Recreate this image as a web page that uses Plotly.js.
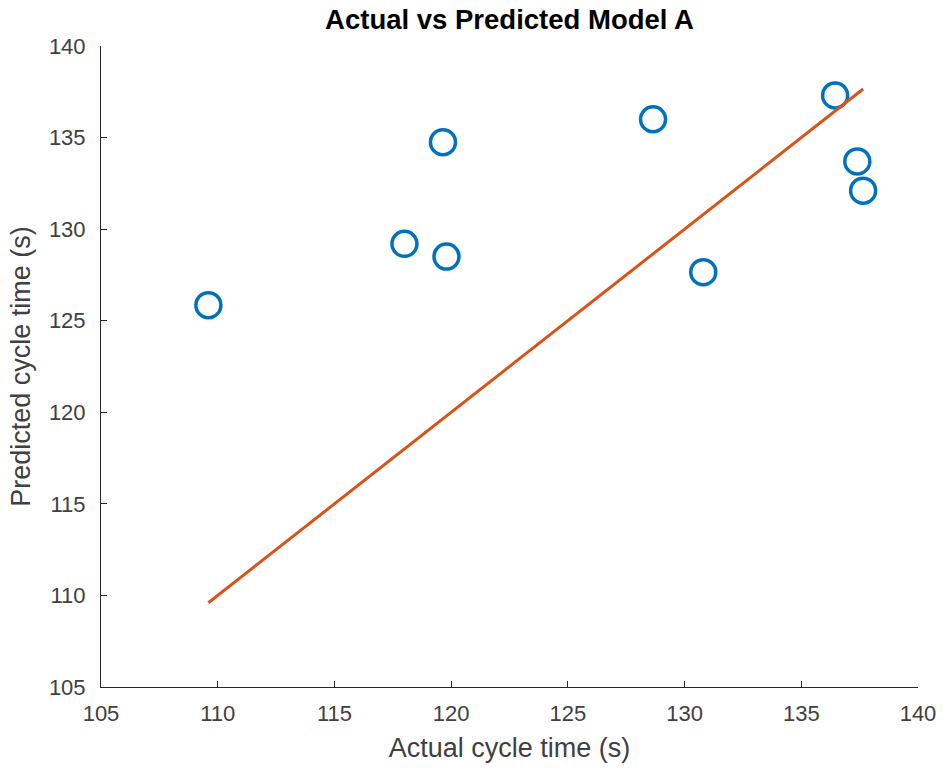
<!DOCTYPE html>
<html>
<head>
<meta charset="utf-8">
<script src="https://cdn.plot.ly/plotly-3.0.1.min.js"></script>
<style>html,body{margin:0;padding:0;background:#fff;}#chart{width:943px;height:772px;}</style>
</head>
<body>
<div id="chart"></div>
<script>
const actual = [109.6, 118.0, 119.65, 119.8, 128.65, 130.8, 136.45, 137.4, 137.65];
const predicted = [125.85, 129.2, 134.75, 128.5, 136.0, 127.65, 137.3, 133.7, 132.1];
const lineX = [109.6, 137.65];
const lineY = [109.6, 137.65];
const tickVals = [105, 110, 115, 120, 125, 130, 135, 140];

const FONT = 'Liberation Sans, Arial, Helvetica, sans-serif';
const axisCommon = {
  range: [105, 140],
  tickvals: tickVals,
  ticks: 'inside',
  ticklen: 6,
  tickwidth: 1,
  tickcolor: '#262626',
  showline: true,
  linecolor: '#262626',
  linewidth: 1,
  showgrid: false,
  zeroline: false,
  tickfont: {family: FONT, size: 22, color: '#404040'},
  fixedrange: true
};

const data = [
  {x: actual, y: predicted, type: 'scatter', mode: 'markers',
   marker: {symbol: 'circle-open', size: 25, color: '#0072BD', line: {width: 3.5, color: '#0072BD'}},
   showlegend: false},
  {x: lineX, y: lineY, type: 'scatter', mode: 'lines',
   line: {color: '#D95319', width: 3}, showlegend: false}
];

const layout = {
  width: 943, height: 772,
  margin: {l: 101, r: 25, t: 46, b: 85},
  paper_bgcolor: '#fff', plot_bgcolor: '#fff',
  title: {text: '<b>Actual vs Predicted Model A</b>', x: 0.5, xref: 'paper', xanchor: 'center',
          y: 0.975, yref: 'container', yanchor: 'middle',
          font: {family: FONT, size: 27.5, color: '#000'}},
  xaxis: Object.assign({}, axisCommon, {
    ticklabelstandoff: 7,
    title: {text: 'Actual cycle time (s)', standoff: 12, font: {family: FONT, size: 27, color: '#404040'}}
  }),
  yaxis: Object.assign({}, axisCommon, {
    ticklabelstandoff: 10,
    title: {text: 'Predicted cycle time (s)', standoff: 10, font: {family: FONT, size: 27, color: '#404040'}}
  })
};

Plotly.newPlot('chart', data, layout, {displayModeBar: false, staticPlot: true});
</script>
</body>
</html>
